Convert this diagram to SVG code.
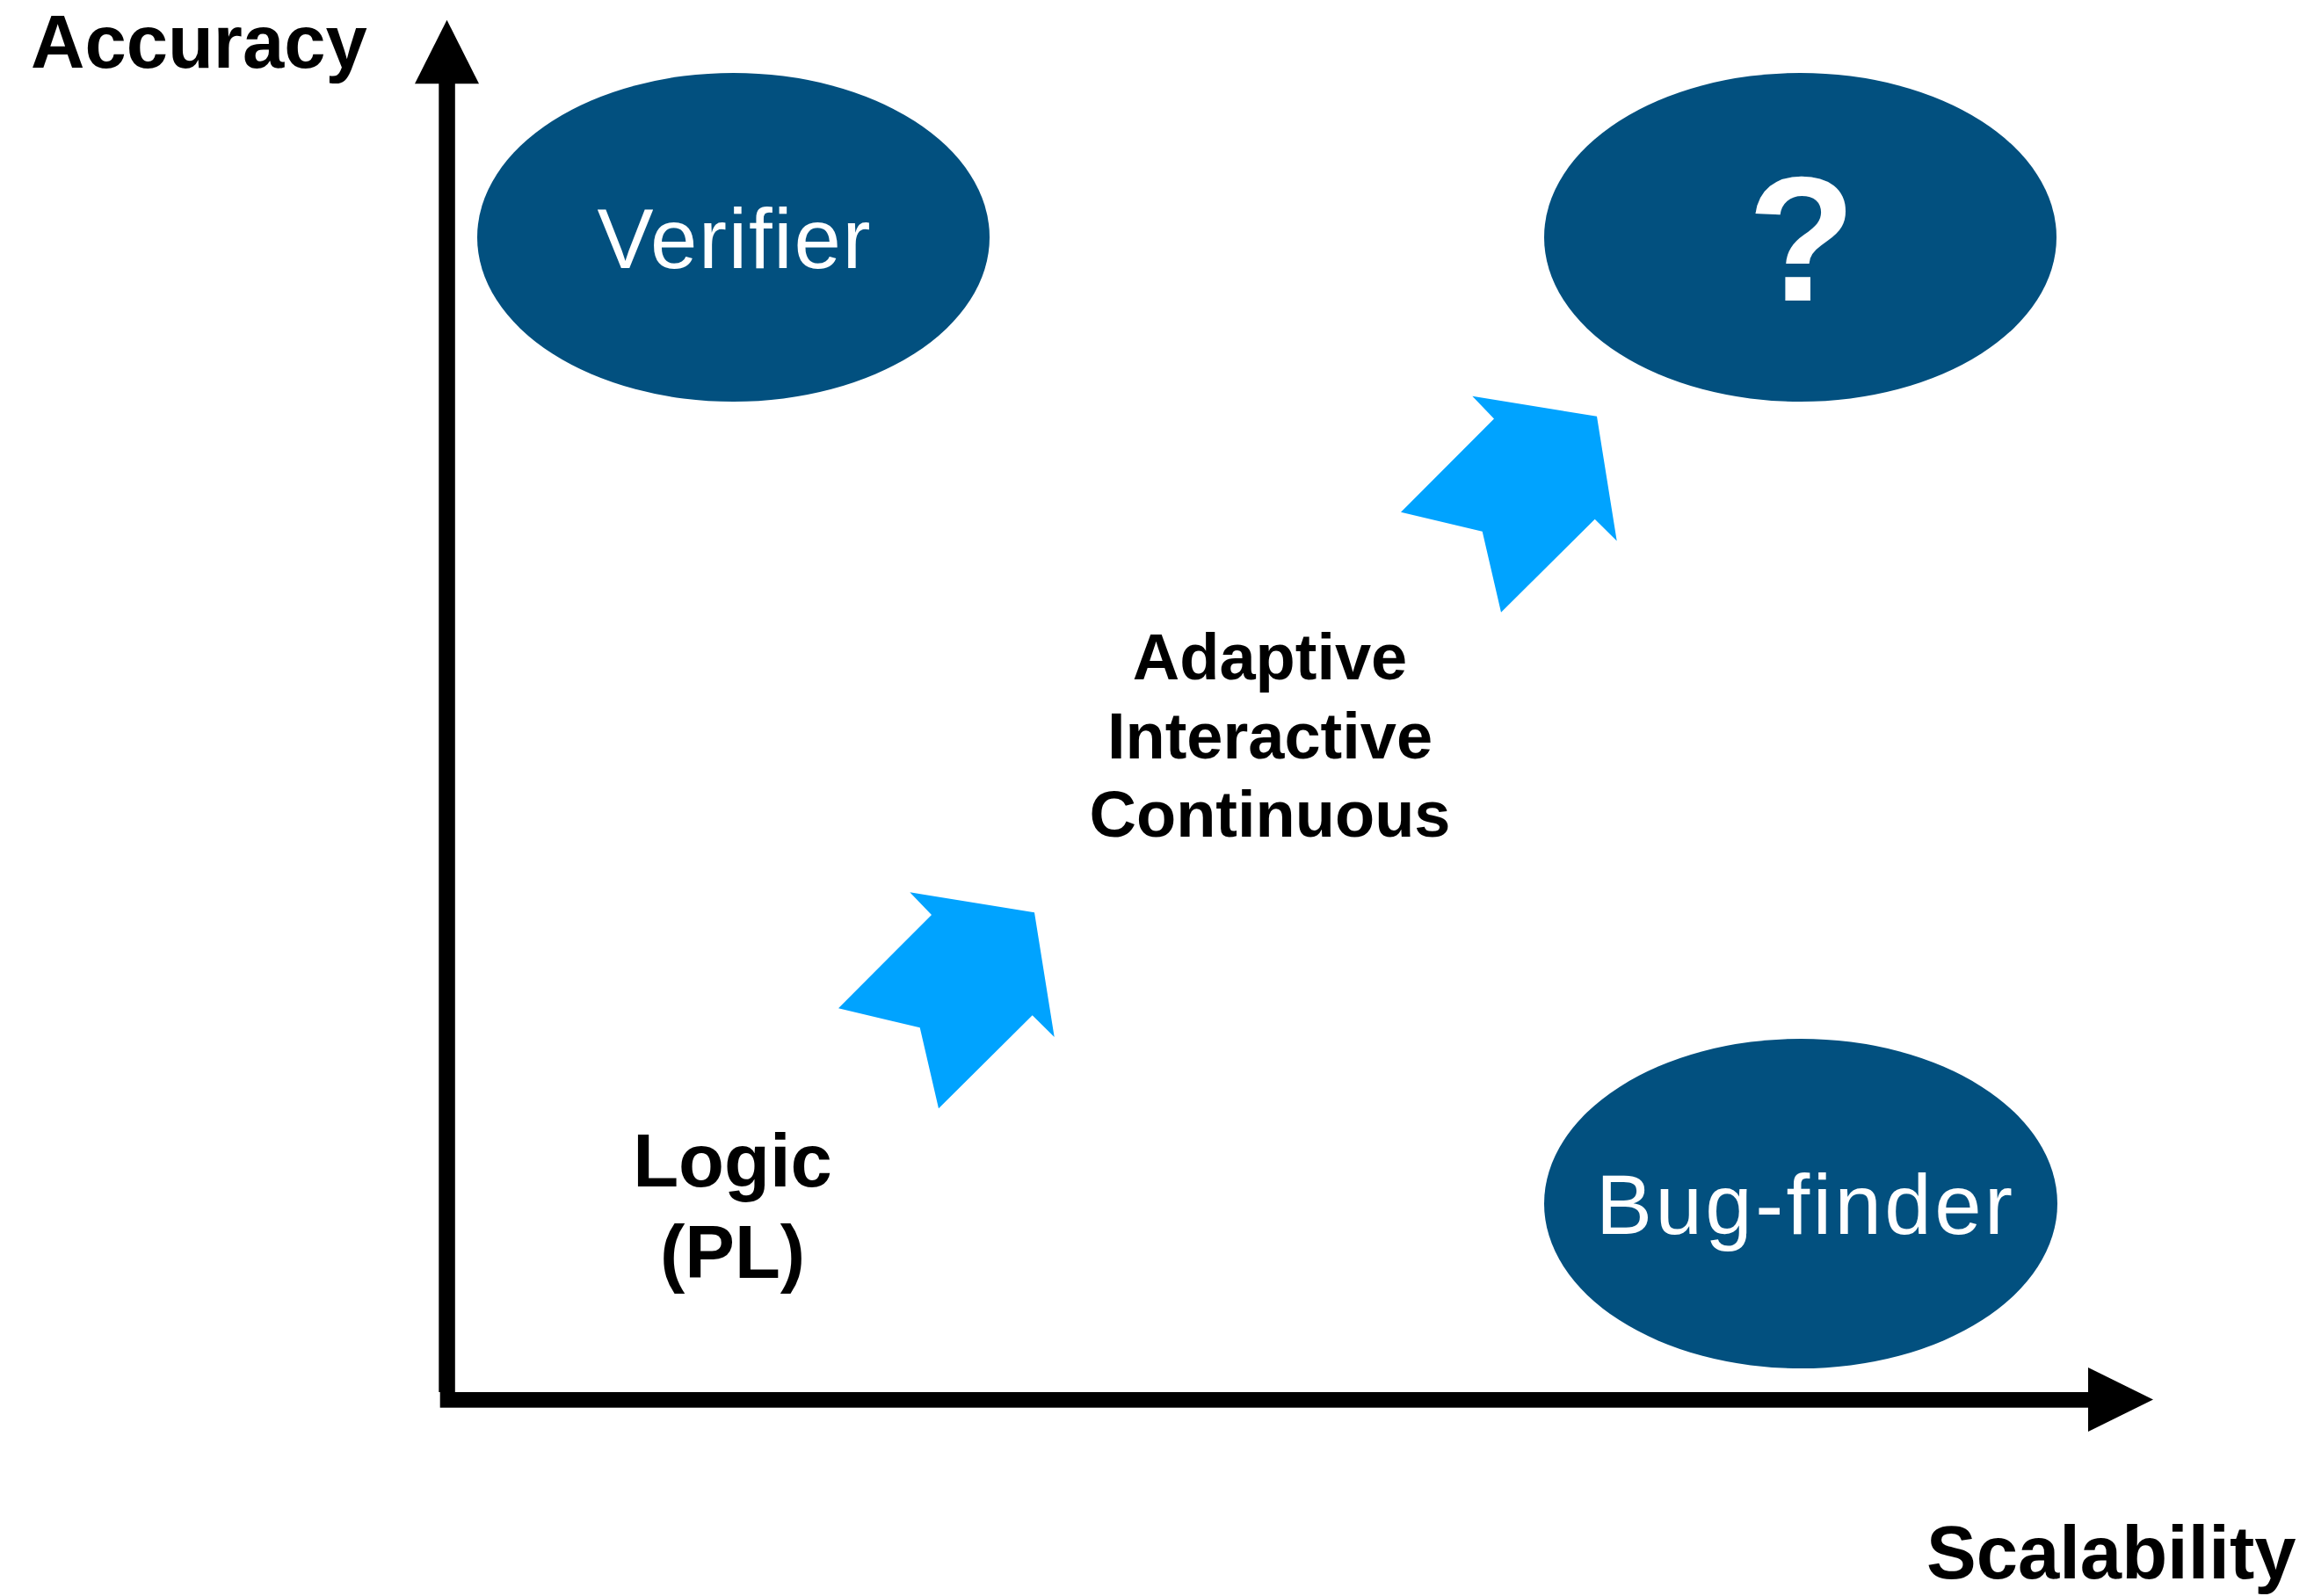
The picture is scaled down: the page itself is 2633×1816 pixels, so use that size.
<svg xmlns="http://www.w3.org/2000/svg" xmlns:xlink="http://www.w3.org/1999/xlink" width="2633" height="1816" viewBox="0 0 2633 1816">
  <style>
    .node { fill: #02507f; }
    .nodetxt { fill: #ffffff; font-family: "Liberation Sans", Arial, Helvetica, sans-serif; font-size: 96px; text-anchor: middle; }
    .label { fill: #000000; font-family: "Liberation Sans", Arial, Helvetica, sans-serif; font-weight: bold; }
    .axis { fill: #000000; }
    .step { fill: #00a3ff; }
  </style>
  <defs>
    <polygon id="stepArrow" points="1035.3,1015.3 1177,1038.3 1199.7,1180 1174.7,1155.3 1068,1261.3 1046.7,1169.3 954,1147.3 1060,1041"/>
  </defs>
  <rect width="2633" height="1816" fill="#ffffff"/>

  <g id="connectors">
    <g id="y-axis">
      <rect class="axis" x="499.3" y="94" width="18.5" height="1490"/>
      <polygon class="axis" points="508.5,22.7 545,95.3 472,95.3"/>
    </g>
    <g id="x-axis">
      <rect class="axis" x="500.7" y="1584" width="1877" height="17.7"/>
      <polygon class="axis" points="2376,1556 2450,1592.5 2376,1629"/>
    </g>
    <g id="progress-arrows">
      <use xlink:href="#stepArrow" href="#stepArrow" class="step"/>
      <use xlink:href="#stepArrow" href="#stepArrow" class="step" transform="translate(640,-564.5)"/>
    </g>
  </g>

  <g id="node-verifier">
    <ellipse class="node" cx="834.5" cy="270" rx="291.5" ry="187"/>
    <text class="nodetxt" x="835" y="305" textLength="311" lengthAdjust="spacing">Verifier</text>
  </g>

  <g id="node-question">
    <ellipse class="node" cx="2048.5" cy="270" rx="291.5" ry="187"/>
    <text class="nodetxt" x="2050" y="342" style="font-weight:bold;font-size:202px">?</text>
  </g>

  <g id="node-bugfinder">
    <ellipse class="node" cx="2049" cy="1369.5" rx="292" ry="187.5"/>
    <text class="nodetxt" x="2053" y="1404" textLength="474" lengthAdjust="spacing">Bug-finder</text>
  </g>

  <g id="label-accuracy">
    <text class="label" x="35" y="77" font-size="85">Accuracy</text>
  </g>
  <g id="label-scalability">
    <text class="label" x="2192" y="1796" font-size="85">Scalability</text>
  </g>
  <g id="label-logic">
    <text class="label" x="833.5" y="1350" font-size="85" text-anchor="middle">Logic</text>
    <text class="label" x="833.5" y="1454" font-size="85" text-anchor="middle">(PL)</text>
  </g>
  <g id="label-adaptive">
    <text class="label" x="1445" y="773" font-size="74" text-anchor="middle">Adaptive</text>
    <text class="label" x="1445" y="863" font-size="74" text-anchor="middle">Interactive</text>
    <text class="label" x="1445" y="952" font-size="74" text-anchor="middle">Continuous</text>
  </g>
</svg>
